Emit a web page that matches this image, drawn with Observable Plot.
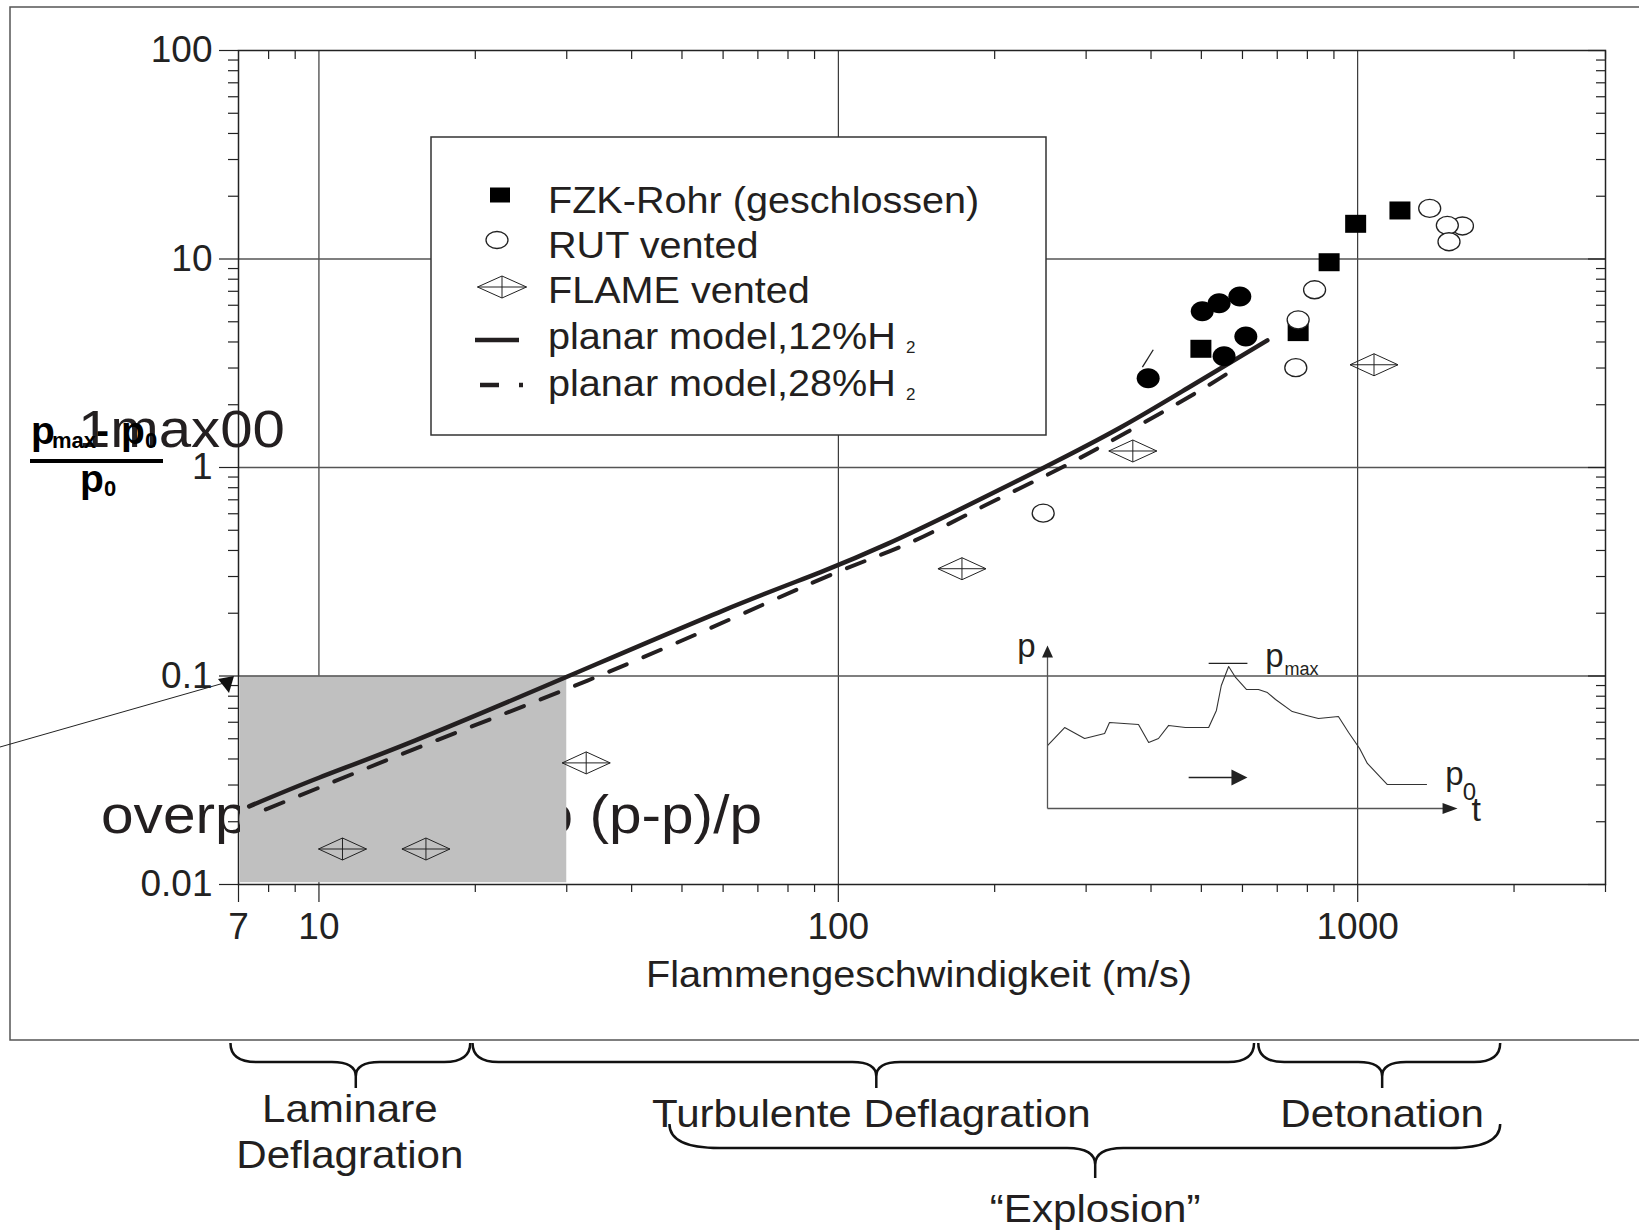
<!DOCTYPE html>
<html>
<head>
<meta charset="utf-8">
<script src="https://cdn.jsdelivr.net/npm/d3@7"></script>
<script src="https://cdn.jsdelivr.net/npm/@observablehq/plot@0.6"></script>
<style>
html, body { margin: 0; padding: 0; background: #fff; }
#chart { position: relative; width: 1639px; height: 1231px; overflow: hidden; }
#chart > svg { position: absolute; }
</style>
</head>
<body>
<div id="chart"></div>
<script>
const FONT = '"Liberation Sans", Arial, Helvetica, sans-serif';

// ---------------- data ----------------
// FZK-Rohr (geschlossen): filled squares
const fzkX = [499, 768, 881, 991, 1206];
const fzkY = [3.71, 4.46, 9.65, 14.75, 17.09];
// filled black ovals (FZK, not in legend)
const ovalX = [395, 502, 541, 593, 553, 609];
const ovalY = [2.68, 5.62, 6.14, 6.61, 3.42, 4.25];
// RUT vented: open circles
const rutX = [248, 760, 768, 826, 1376, 1591, 1488, 1499];
const rutY = [0.604, 3.01, 5.11, 7.12, 17.5, 14.4, 14.5, 12.1];
// FLAME vented: diamonds
const flameX = [11.1, 16.07, 32.7, 173, 369, 1075];
const flameY = [0.0148, 0.0148, 0.0383, 0.327, 1.20, 3.11];
// planar model, 12% H2 (solid)
const model12X = [7.34, 10, 15.3, 30.1, 60, 92.5, 124.3, 167, 249, 350, 470, 670];
const model12Y = [0.0237, 0.0325, 0.049, 0.0994, 0.206, 0.315, 0.43, 0.61, 1.0, 1.56, 2.40, 4.07];
// planar model, 28% H2 (dashed)
const model28X = [7.9, 16.2, 32.9, 61.9, 99.6, 138, 191, 264, 360, 491, 595];
const model28Y = [0.0229, 0.0473, 0.0951, 0.187, 0.315, 0.438, 0.655, 0.975, 1.48, 2.30, 3.1];
// small stray stroke above the first oval
const slashX = [404, 385];
const slashY = [3.67, 3.03];
// shaded laminar region
const shadeX = [7, 30];
const shadeY = [0.0102, 0.1];

// axes
const xMajorTicks = [7, 10, 100, 1000];
const xMinorTicks = [8, 9, 20, 30, 40, 50, 60, 70, 80, 90, 200, 300, 400, 500, 600, 700, 800, 900, 2000, 3000];
const yMajorTicks = [0.01, 0.1, 1, 10, 100];
const yMinorTicks = [0.02, 0.03, 0.04, 0.05, 0.06, 0.07, 0.08, 0.09, 0.2, 0.3, 0.4, 0.5, 0.6, 0.7, 0.8, 0.9, 2, 3, 4, 5, 6, 7, 8, 9, 20, 30, 40, 50, 60, 70, 80, 90];
const gridX = [10, 100, 1000];
const gridY = [0.1, 1, 10];
const xLabel = "Flammengeschwindigkeit (m/s)";

// legend
const legendLabels = ["FZK-Rohr (geschlossen)", "RUT vented", "FLAME vented", "planar model,12%H", "planar model,28%H"];

// regions (bottom braces), in flame speed m/s
const regionLabels = [["Laminare", "Deflagration"], ["Turbulente Deflagration"], ["Detonation"]];
const regionFrom = [6.77, 19.8, 645];
const regionTo = [19.6, 633, 1885];
const regionTip = [11.8, 118.6, 1117];
const explosionLabel = "\u201CExplosion\u201D";
const explosionFrom = 47.4, explosionTo = 1885, explosionTip = 313;

// inset: pressure-time sketch (arbitrary units 0..100)
const insetT = [0, 4.2, 9.1, 14.0, 15.2, 22.3, 24.8, 27.2, 29.7, 33.8, 39.5, 41.4, 42.6, 44.4, 46.1, 48.8, 51.7, 53.9, 55.9, 60.0, 63.5, 66.4, 71.3, 73.8, 76.5, 78.4, 83.3, 92.9];
const insetP = [39.1, 50.3, 43.5, 46.6, 53.4, 52.2, 41.0, 43.5, 51.6, 50.3, 50.3, 60.9, 76.4, 88.2, 81.4, 73.9, 73.9, 72.0, 67.7, 60.2, 57.8, 55.9, 57.1, 47.2, 37.3, 28.0, 14.9, 14.9];

// ---------------- symbols ----------------
function ellipsePath(ctx, rx, ry) {
  const k = 0.5523;
  ctx.moveTo(rx, 0);
  ctx.bezierCurveTo(rx, k * ry, k * rx, ry, 0, ry);
  ctx.bezierCurveTo(-k * rx, ry, -rx, k * ry, -rx, 0);
  ctx.bezierCurveTo(-rx, -k * ry, -k * rx, -ry, 0, -ry);
  ctx.bezierCurveTo(k * rx, -ry, rx, -k * ry, rx, 0);
  ctx.closePath();
}
const squareSym = {draw(ctx) { ctx.rect(-10.5, -9, 21, 18); }};
const ovalSym = {draw(ctx) { ellipsePath(ctx, 11.5, 10); }};
const rutSym = {draw(ctx) { ellipsePath(ctx, 11, 9); }};
function diamondDraw(ctx, w, h) {
  ctx.moveTo(-w, 0); ctx.lineTo(0, -h); ctx.lineTo(w, 0); ctx.lineTo(0, h); ctx.closePath();
  ctx.moveTo(-w, 0); ctx.lineTo(w, 0);
  ctx.moveTo(0, -h); ctx.lineTo(0, h);
}
const diamondSym = {draw(ctx) { diamondDraw(ctx, 24, 11); }};
const triUp = {draw(ctx) { ctx.moveTo(0, 0); ctx.lineTo(5.5, 12); ctx.lineTo(-5.5, 12); ctx.closePath(); }};
const triRight = {draw(ctx) { ctx.moveTo(0, 0); ctx.lineTo(-15, -5.5); ctx.lineTo(-15, 5.5); ctx.closePath(); }};
const triRightBig = {draw(ctx) { ctx.moveTo(0, 0); ctx.lineTo(-16, -8); ctx.lineTo(-16, 8); ctx.closePath(); }};

// ---------------- main plot ----------------
const INK = "#231f20";
const plot = Plot.plot({
  width: 1639,
  height: 1231,
  marginLeft: 238,
  marginRight: 34,
  marginTop: 50,
  marginBottom: 347,
  x: {type: "log", domain: [7, 3000]},
  y: {type: "log", domain: [0.01, 100]},
  style: {fontFamily: FONT, color: "#222", background: "#fff", overflow: "visible"},
  marks: [
    Plot.ruleX(gridX, {stroke: "#111", strokeWidth: 1}),
    Plot.rect([0], {x1: shadeX[0], x2: shadeX[1], y1: shadeY[0], y2: shadeY[1], fill: "#c0c0c0", insetLeft: 2}),
    Plot.ruleY(gridY, {stroke: "#555", strokeWidth: 1.3}),
    Plot.frame({stroke: "#222", strokeWidth: 1.5}),
    Plot.axisX(xMinorTicks, {anchor: "bottom", tickSize: 8, strokeWidth: 1.2, tickFormat: () => "", label: null}),
    Plot.axisX(xMajorTicks, {anchor: "bottom", tickSize: 18, strokeWidth: 1.2, tickPadding: 10, fontSize: 37, tickFormat: d => String(d), label: null}),
    Plot.axisX(xMinorTicks, {anchor: "top", tickSize: -8, strokeWidth: 1.2, tickFormat: () => "", label: null}),
    Plot.axisY(yMinorTicks, {anchor: "left", tickSize: 10, strokeWidth: 1.2, tickFormat: () => "", label: null}),
    Plot.axisY(yMajorTicks, {anchor: "left", tickSize: 19, strokeWidth: 1.2, tickPadding: 7, fontSize: 37, tickFormat: d => String(d), label: null}),
    Plot.axisY(yMinorTicks, {anchor: "right", tickSize: -10, strokeWidth: 1.2, tickFormat: () => "", label: null}),
    Plot.axisY(yMajorTicks, {anchor: "right", tickSize: -18, strokeWidth: 1.2, tickFormat: () => "", label: null}),
    Plot.line(model12X, {x: model12X, y: model12Y, stroke: INK, strokeWidth: 4.5, curve: "natural"}),
    Plot.line(model28X, {x: model28X, y: model28Y, stroke: INK, strokeWidth: 4, strokeDasharray: "19,18", curve: "natural"}),
    Plot.dot(fzkX, {x: fzkX, y: fzkY, symbol: squareSym, fill: "#000", r: 10}),
    Plot.dot(ovalX, {x: ovalX, y: ovalY, symbol: ovalSym, fill: "#000", r: 10}),
    Plot.dot(rutX, {x: rutX, y: rutY, symbol: rutSym, fill: "#fff", stroke: "#222", strokeWidth: 1.3, r: 10}),
    Plot.dot(flameX, {x: flameX, y: flameY, symbol: diamondSym, fill: "none", stroke: "#222", strokeWidth: 1, r: 10}),
    Plot.link([0], {x1: slashX[0], y1: slashY[0], x2: slashX[1], y2: slashY[1], stroke: "#222", strokeWidth: 1.3})
  ]
});

const chart = document.getElementById("chart");
plot.style.left = "0px";
plot.style.top = "0px";
chart.appendChild(plot);

const xScale = plot.scale("x");
const sx = xScale.apply ? (v) => xScale.apply(v) : d3.scaleLog().domain(xScale.domain).range(xScale.range);

const svg = d3.select(plot);
const stretchList = [];
function addText(parent, x, y, str, opts = {}) {
  const t = parent.append("text")
    .attr("x", x).attr("y", y)
    .attr("font-family", FONT)
    .attr("font-size", opts.size || 36)
    .attr("font-weight", opts.weight || "normal")
    .attr("text-anchor", opts.anchor || "start")
    .attr("fill", opts.fill || INK)
    .text(str);
  if (opts.stretch) stretchList.push([t.node(), opts.stretch]);
  return t;
}

// big stray label under the shaded box (inserted beneath everything)
const under = svg.insert("g", ":first-child");
addText(under, 101, 833, "overpressure ratio (p-p)/p", {size: 54, fill: "#231f20", stretch: 1.085});

// outer frame of the figure
svg.append("rect").attr("x", 10).attr("y", 7).attr("width", 1700).attr("height", 1033)
  .attr("fill", "none").attr("stroke", "#555").attr("stroke-width", 1.5);

// legend
const leg = svg.append("g");
leg.append("rect").attr("x", 431).attr("y", 137).attr("width", 615).attr("height", 298)
  .attr("fill", "#fff").attr("stroke", "#333").attr("stroke-width", 1.5);
const legBase = [213, 258, 303, 349, 396];
legendLabels.forEach((s, i) => addText(leg, 548, legBase[i], s, {size: 36, stretch: 1.1}));
addText(leg, 906, 353, "2", {size: 17});
addText(leg, 906, 400, "2", {size: 17});
function symPath(draw) { const p = d3.path(); draw(p); return p.toString(); }
leg.append("path").attr("transform", "translate(500,195)").attr("d", symPath(c => c.rect(-10, -7.5, 20, 15))).attr("fill", "#000");
leg.append("path").attr("transform", "translate(497,240)").attr("d", symPath(c => ellipsePath(c, 11, 8.5))).attr("fill", "#fff").attr("stroke", "#222").attr("stroke-width", 1.3);
leg.append("path").attr("transform", "translate(502,287)").attr("d", symPath(c => diamondDraw(c, 24.5, 11))).attr("fill", "none").attr("stroke", "#222").attr("stroke-width", 1);
leg.append("line").attr("x1", 475).attr("x2", 519).attr("y1", 340).attr("y2", 340).attr("stroke", INK).attr("stroke-width", 4.5);
leg.append("line").attr("x1", 480).attr("x2", 499).attr("y1", 385).attr("y2", 385).attr("stroke", INK).attr("stroke-width", 4.5);
leg.append("line").attr("x1", 519).attr("x2", 523).attr("y1", 385).attr("y2", 385).attr("stroke", INK).attr("stroke-width", 4.5);

// x axis title
addText(svg, 919, 987, xLabel, {size: 36, anchor: "middle", stretch: 1.1});

// y axis title (fraction) and the overlapping stray text
const yl = svg.append("g");
addText(yl, 78, 447, "1max00", {size: 51, fill: "#231f20", stretch: 1.14});
addText(yl, 31, 444, "p", {size: 39, weight: "bold", fill: "#000"});
addText(yl, 52, 448, "max", {size: 22, weight: "bold", fill: "#000"});
addText(yl, 96, 444, "-", {size: 39, weight: "bold", fill: "#000"});
addText(yl, 121, 444, "p", {size: 39, weight: "bold", fill: "#000"});
addText(yl, 145, 448, "0", {size: 22, weight: "bold", fill: "#000"});
yl.append("line").attr("x1", 30).attr("x2", 163).attr("y1", 461).attr("y2", 461).attr("stroke", "#000").attr("stroke-width", 4);
addText(yl, 80, 492, "p", {size: 39, weight: "bold", fill: "#000"});
addText(yl, 104, 496, "0", {size: 22, weight: "bold", fill: "#000"});

// stray pointer line towards the 0.1 label
svg.append("line").attr("x1", 0).attr("y1", 747).attr("x2", 224).attr("y2", 683).attr("stroke", "#222").attr("stroke-width", 1);
svg.append("path").attr("d", "M218,679L234,676L229,693Z").attr("fill", "#111");

// bottom braces
function brace(g, x1, x2, xm, yTop, yMid, yTip, r, rt) {
  const d = `M${x1},${yTop}Q${x1},${yMid} ${x1 + r},${yMid}L${xm - rt},${yMid}Q${xm},${yMid} ${xm},${yMid + rt * 0.6}L${xm},${yTip}` +
            `M${x2},${yTop}Q${x2},${yMid} ${x2 - r},${yMid}L${xm + rt},${yMid}Q${xm},${yMid} ${xm},${yMid + rt * 0.6}L${xm},${yTip}`;
  g.append("path").attr("d", d).attr("fill", "none").attr("stroke", "#111").attr("stroke-width", 2.5);
}
const br = svg.append("g");
regionLabels.forEach((lines, i) => {
  const a = sx(regionFrom[i]), b = sx(regionTo[i]), m = sx(regionTip[i]);
  brace(br, a, b, m, 1043, 1062, 1088, 26, 24);
});
brace(br, sx(explosionFrom), sx(explosionTo), sx(explosionTip), 1124, 1148, 1178, 50, 28);
addText(br, sx(regionTip[0]) - 6, 1122, regionLabels[0][0], {size: 39, anchor: "middle", stretch: 1.08});
addText(br, sx(regionTip[0]) - 6, 1168, regionLabels[0][1], {size: 39, anchor: "middle", stretch: 1.08});
addText(br, sx(regionTip[1]) - 5, 1127, regionLabels[1][0], {size: 39, anchor: "middle", stretch: 1.08});
addText(br, sx(regionTip[2]), 1127, regionLabels[2][0], {size: 39, anchor: "middle", stretch: 1.08});
addText(br, sx(explosionTip), 1222, explosionLabel, {size: 39, anchor: "middle", stretch: 1.08});

stretchList.forEach(([node, f]) => {
  const n = node.getComputedTextLength();
  if (n > 0) {
    node.setAttribute("textLength", (n * f).toFixed(1));
    node.setAttribute("lengthAdjust", "spacingAndGlyphs");
  }
});

// ---------------- inset (p-t sketch) ----------------
const inset = Plot.plot({
  width: 520,
  height: 240,
  marginLeft: 47,
  marginRight: 65,
  marginTop: 47,
  marginBottom: 32,
  x: {domain: [0, 100], axis: null},
  y: {domain: [0, 100], axis: null},
  style: {fontFamily: FONT, background: "transparent", overflow: "visible", color: "#222"},
  marks: [
    Plot.line(insetT, {x: insetT, y: insetP, stroke: "#333", strokeWidth: 1.1}),
    Plot.link([0], {x1: 0, y1: 0, x2: 0, y2: 95, stroke: "#555", strokeWidth: 1.3}),
    Plot.link([0], {x1: 0, y1: 0, x2: 97, y2: 0, stroke: "#555", strokeWidth: 1.3}),
    Plot.dot([0], {x: 0, y: 101.2, symbol: triUp, fill: "#222", r: 6}),
    Plot.dot([0], {x: 100.5, y: 0, symbol: triRight, fill: "#222", r: 6}),
    Plot.link([0], {x1: 34.6, y1: 19.3, x2: 46, y2: 19.3, stroke: "#222", strokeWidth: 1.5}),
    Plot.dot([0], {x: 49, y: 19.3, symbol: triRightBig, fill: "#222", r: 8}),
    Plot.link([0], {x1: 39.5, y1: 90.1, x2: 49, y2: 90.1, stroke: "#222", strokeWidth: 1.2}),
    Plot.text(["p"], {x: -2.9, y: 93.8, text: d => d, textAnchor: "end", lineAnchor: "bottom", fontSize: 33, fill: INK}),
    Plot.text(["p"], {x: 53.4, y: 87.6, text: d => d, textAnchor: "start", lineAnchor: "bottom", fontSize: 33, fill: INK}),
    Plot.text(["max"], {x: 58.1, y: 83.2, text: d => d, textAnchor: "start", lineAnchor: "bottom", fontSize: 18, fill: INK}),
    Plot.text(["p"], {x: 97.5, y: 14.3, text: d => d, textAnchor: "start", lineAnchor: "bottom", fontSize: 33, fill: INK}),
    Plot.text(["0"], {x: 101.8, y: 5.5, text: d => d, textAnchor: "start", lineAnchor: "bottom", fontSize: 24, fill: INK}),
    Plot.text(["t"], {x: 103.9, y: -8, text: d => d, textAnchor: "start", lineAnchor: "bottom", fontSize: 34, fill: INK})
  ]
});
inset.style.left = "1000px";
inset.style.top = "600px";
chart.appendChild(inset);
</script>
</body>
</html>
